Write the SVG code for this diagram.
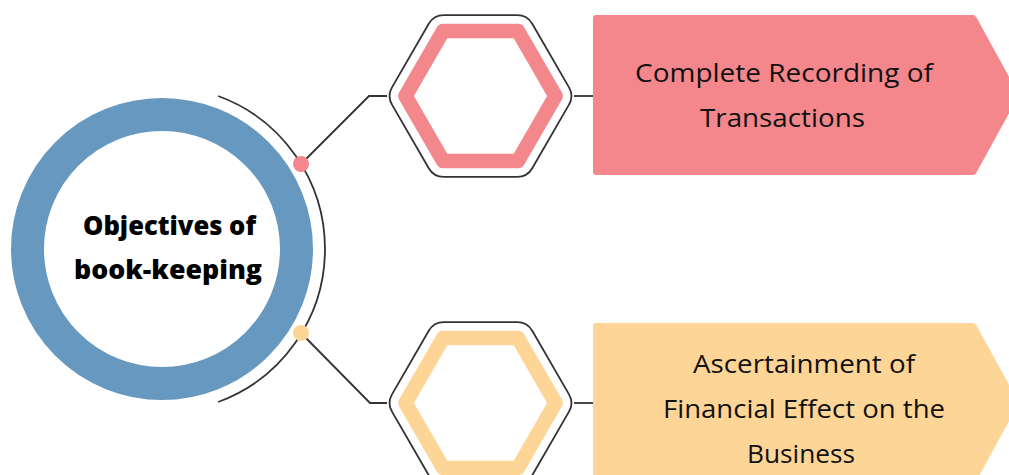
<svg xmlns="http://www.w3.org/2000/svg" width="1009" height="475" viewBox="0 0 1009 475">
  <style>
    .wire { fill: none; stroke: #333333; stroke-width: 1.8; stroke-linejoin: miter; }
    .hexout { fill: #ffffff; stroke: #333333; stroke-width: 1.8; }
    .hexin { fill: #ffffff; stroke-width: 14.5; stroke-linejoin: round; }
    .label { font-family: "Open Sans", "Liberation Sans", sans-serif; font-size: 26px; fill: #111111; }
    .title { font-family: "Open Sans", "Liberation Sans", sans-serif; font-size: 26px; font-weight: 800; fill: #000000; }
    .pink { stroke: #F4878C; }
    .yellow { stroke: #FDD597; }
  </style>
  <defs>
    <path id="hexOuter" d="M 88.5,-8.66 Q 93.5,0 88.5,8.66 L 51.75,72.31 Q 46.75,80.97 36.75,80.97 L -36.75,80.97 Q -46.75,80.97 -51.75,72.31 L -88.5,8.66 Q -93.5,0 -88.5,-8.66 L -51.75,-72.31 Q -46.75,-80.97 -36.75,-80.97 L 36.75,-80.97 Q 46.75,-80.97 51.75,-72.31 Z"/>
    <path id="hexInner" d="M 75,0 L 37.5,64.95 L -37.5,64.95 L -75,0 L -37.5,-64.95 L 37.5,-64.95 Z"/>
  </defs>
  <rect width="1009" height="475" fill="#ffffff"/>

  <g id="connectors">
    <path class="wire" d="M 218.2,96 A 163 163 0 0 1 218.2,402"/>
    <path class="wire" d="M 301,164 L 369,96 L 387,96"/>
    <path class="wire" d="M 301,333 L 370,403 L 387,403"/>
    <path class="wire" d="M 574,96 L 594,96"/>
    <path class="wire" d="M 574,403 L 594,403"/>
    <circle cx="301" cy="164" r="8" fill="#F4878C"/>
    <circle cx="301" cy="333" r="8" fill="#FDD597"/>
  </g>

  <g id="center-node">
    <circle cx="162" cy="249" r="134.5" fill="#ffffff" stroke="#6799C0" stroke-width="33"/>
    <text class="title" x="83" y="235" textLength="173" lengthAdjust="spacingAndGlyphs">Objectives of</text>
    <text class="title" x="74" y="279" textLength="188" lengthAdjust="spacingAndGlyphs">book-keeping</text>
  </g>

  <g id="hex-top" transform="translate(480.5,96)">
    <use href="#hexOuter" class="hexout"/>
    <use href="#hexInner" class="hexin pink"/>
  </g>

  <g id="hex-bottom" transform="translate(480.5,403)">
    <use href="#hexOuter" class="hexout"/>
    <use href="#hexInner" class="hexin yellow"/>
  </g>

  <g id="box-top">
    <path d="M 596,15 L 973,15 Q 975,15 976.5,17.5 L 1019,95 L 976.5,172.5 Q 975,175 973,175 L 596,175 Q 593,175 593,172 L 593,18 Q 593,15 596,15 Z" fill="#F4878C"/>
    <text class="label" x="635" y="82" textLength="298" lengthAdjust="spacingAndGlyphs">Complete Recording of</text>
    <text class="label" x="700" y="127" textLength="165" lengthAdjust="spacingAndGlyphs">Transactions</text>
  </g>

  <g id="box-bottom">
    <path d="M 596,323 L 973,323 Q 975,323 976.5,325.5 L 1019,403 L 976.5,480.5 Q 975,483 973,483 L 596,483 Q 593,483 593,480 L 593,326 Q 593,323 596,323 Z" fill="#FDD597"/>
    <text class="label" x="693" y="373" textLength="222" lengthAdjust="spacingAndGlyphs">Ascertainment of</text>
    <text class="label" x="663" y="418" textLength="282" lengthAdjust="spacingAndGlyphs">Financial Effect on the</text>
    <text class="label" x="747" y="463" textLength="108" lengthAdjust="spacingAndGlyphs">Business</text>
  </g>
</svg>
